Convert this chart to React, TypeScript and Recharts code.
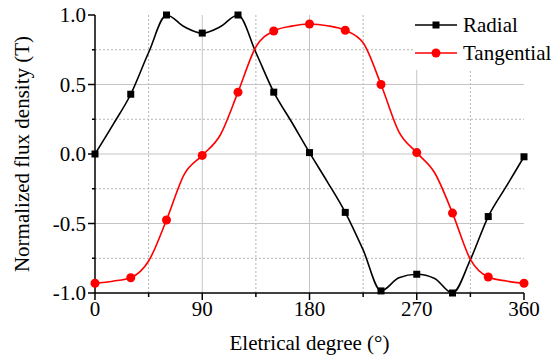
import { LineChart, Line, XAxis, YAxis, ReferenceLine, Legend } from "recharts";

// curve read every 15°, markers drawn every 30°
const angles = [0, 15, 30, 45, 60, 75, 90, 105, 120, 135, 150, 165, 180, 195, 210, 225, 240, 255, 270, 285, 300, 315, 330, 345, 360];
const radial = [
  0.0, 0.21, 0.43, 0.73, 1.0, 0.915, 0.87, 0.915, 1.0, 0.73, 0.445, 0.23, 0.01,
  -0.2, -0.42, -0.69, -0.985, -0.89, -0.865, -0.895, -1.0, -0.76, -0.45, -0.235, -0.02,
];
const tangential = [
  -0.93, -0.915, -0.89, -0.77, -0.475, -0.145, -0.01, 0.135, 0.445, 0.77, 0.885, 0.92, 0.935,
  0.923, 0.89, 0.8, 0.5, 0.16, 0.01, -0.135, -0.425, -0.758, -0.885, -0.914, -0.93,
];
const markerStep = 30;

const xTicks = [0, 45, 90, 135, 180, 225, 270, 315, 360];
const yTicks = [-1, -0.75, -0.5, -0.25, 0, 0.25, 0.5, 0.75, 1];
const xGrid = [45, 90, 135, 180, 225, 270, 315];
const yGrid = [-0.75, -0.5, -0.25, 0, 0.25, 0.5, 0.75];

const seriesNames = ["Radial", "Tangential"];
const seriesColors = ["#000000", "#ff0000"];

const data = angles.map((a, i) => ({
  angle: a,
  radial: radial[i],
  tangential: tangential[i],
}));

const FONT = '"Liberation Serif", Tinos, "Times New Roman", Times, "DejaVu Serif", serif';

const isMajorX = (v: number) => v % 90 === 0;
const isMajorY = (v: number) => Math.abs(v * 2 - Math.round(v * 2)) < 1e-9;

function XTick(props: any) {
  const { x, y, payload } = props;
  const major = isMajorX(payload.value);
  return (
    <g>
      <line x1={x} x2={x} y1={y} y2={y + (major ? 7 : 4)} stroke="#000" strokeWidth={1.5} />
      {major && (
        <text x={x} y={y + 23} textAnchor="middle" fontSize={21} fill="#000" style={{ fontFamily: FONT }}>
          {payload.value}
        </text>
      )}
    </g>
  );
}

function YTick(props: any) {
  const { x, y, payload } = props;
  const major = isMajorY(payload.value);
  return (
    <g>
      <line x1={x} x2={x - (major ? 7 : 3)} y1={y} y2={y} stroke="#000" strokeWidth={1.5} />
      {major && (
        <text x={x - 9} y={y + 7} textAnchor="end" fontSize={21} fill="#000" style={{ fontFamily: FONT }}>
          {Number(payload.value).toFixed(1)}
        </text>
      )}
    </g>
  );
}

function SquareDot(props: any) {
  const { cx, cy, payload } = props;
  if (cx == null || cy == null || payload.angle % markerStep !== 0) return null;
  return <rect x={cx - 3.5} y={cy - 3.5} width={7} height={7} fill="#000" />;
}

function CircleDot(props: any) {
  const { cx, cy, payload } = props;
  if (cx == null || cy == null || payload.angle % markerStep !== 0) return null;
  return <circle cx={cx} cy={cy} r={4.5} fill="#ff0000" />;
}

function LegendContent() {
  return (
    <svg width={143} height={60} style={{ display: "block", background: "#fff" }}>
      {seriesNames.map((name, i) => {
        const cy = 15 + i * 28;
        return (
          <g key={name}>
            <line x1={2} x2={44} y1={cy} y2={cy} stroke={seriesColors[i]} strokeWidth={1.5} />
            {i === 0 ? (
              <rect x={19.5} y={cy - 3.5} width={7} height={7} fill={seriesColors[i]} />
            ) : (
              <circle cx={23} cy={cy} r={4.5} fill={seriesColors[i]} />
            )}
            <text x={50} y={cy + 7} fontSize={21} fill="#000" style={{ fontFamily: FONT }}>
              {name}
            </text>
          </g>
        );
      })}
    </svg>
  );
}

export default function App() {
  return (
    <div style={{ fontFamily: FONT }}>
      <style>{"body{margin:0}"}</style>
      <LineChart
        width={556}
        height={360}
        data={data}
        margin={{ top: 15, right: 32, left: 0, bottom: 0 }}
        style={{ fontFamily: FONT }}
      >
        {xGrid.map((v) => (
          <ReferenceLine
            key={"x" + v}
            x={v}
            stroke={isMajorX(v) ? "#c4c4c4" : "#b4b4b4"}
            strokeWidth={1}
            strokeDasharray={isMajorX(v) ? undefined : "2 2"}
          />
        ))}
        {yGrid.map((v) => (
          <ReferenceLine
            key={"y" + v}
            y={v}
            stroke={isMajorY(v) ? "#c4c4c4" : "#b4b4b4"}
            strokeWidth={1}
            strokeDasharray={isMajorY(v) ? undefined : "2 2"}
          />
        ))}
        <XAxis
          dataKey="angle"
          type="number"
          domain={[0, 360]}
          ticks={xTicks}
          interval={0}
          height={67}
          tickSize={0}
          tickMargin={0}
          tickLine={false}
          tick={<XTick />}
          axisLine={{ stroke: "#000", strokeWidth: 1.5 }}
          label={{
            value: "Eletrical degree (°)",
            position: "insideBottom",
            offset: 10,
            style: { fontSize: 21, fill: "#000", fontFamily: FONT },
          }}
        />
        <YAxis
          type="number"
          domain={[-1, 1]}
          ticks={yTicks}
          interval={0}
          width={95}
          tickSize={0}
          tickMargin={0}
          tickLine={false}
          tick={<YTick />}
          axisLine={{ stroke: "#000", strokeWidth: 1.5 }}
          label={{
            value: "Normalized flux density (T)",
            angle: -90,
            position: "insideLeft",
            offset: 22,
            style: { fontSize: 21, fill: "#000", fontFamily: FONT, textAnchor: "middle" },
          }}
        />
        <Legend
          layout="vertical"
          align="center"
          verticalAlign="middle"
          content={<LegendContent />}
          wrapperStyle={{ top: 10, left: 413, width: 143, height: 60 }}
        />
        <Line
          type="monotone"
          dataKey="radial"
          name={seriesNames[0]}
          stroke={seriesColors[0]}
          strokeWidth={1.6}
          dot={<SquareDot />}
          activeDot={false}
          isAnimationActive={false}
        />
        <Line
          type="monotone"
          dataKey="tangential"
          name={seriesNames[1]}
          stroke={seriesColors[1]}
          strokeWidth={1.6}
          dot={<CircleDot />}
          activeDot={false}
          isAnimationActive={false}
        />
      </LineChart>
    </div>
  );
}
